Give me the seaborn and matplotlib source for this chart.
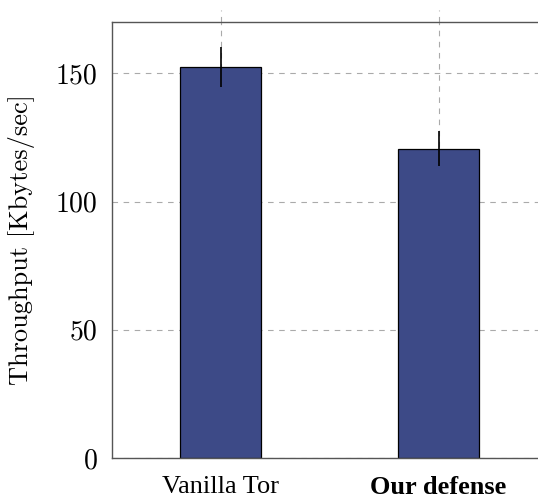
import matplotlib
matplotlib.use("Agg")
import matplotlib.pyplot as plt
import matplotlib.transforms as mtransforms
import seaborn as sns
import pandas as pd

categories = ["Vanilla Tor", "Our defense"]
throughput = [152.5, 120.6]
errors = [7.7, 6.8]
yticks = [0, 50, 100, 150]

sns.set_style("white")
plt.rcParams["font.family"] = ["Liberation Serif", "DejaVu Serif"]
plt.rcParams["text.color"] = "black"
plt.rcParams["axes.labelcolor"] = "black"
plt.rcParams["xtick.color"] = "black"
plt.rcParams["ytick.color"] = "black"

df = pd.DataFrame({"cat": categories, "val": throughput})

fig = plt.figure(figsize=(5.38, 4.98), dpi=100)
ax = fig.add_axes([111.5 / 538, 1 - 458 / 498, (547.5 - 111.5) / 538, (458 - 22) / 498])

grid_kw = dict(color="#aaaaaa", linewidth=0.8, linestyle=(0, (5, 5)))
for y in yticks:
    ax.axhline(y, zorder=0, **grid_kw)

sns.barplot(data=df, x="cat", y="val", ax=ax, color="#3d4a87", saturation=1,
            width=0.369, edgecolor="black", linewidth=0.9, errorbar=None, zorder=2)

xs = list(range(len(categories)))
trans = mtransforms.blended_transform_factory(ax.transData, ax.transAxes)
for x in xs:
    ax.axvline(x, zorder=0, **grid_kw)
    ax.plot([x, x], [1.0, 1.0 + 12 / 436], transform=trans, clip_on=False, **grid_kw)

ax.errorbar(xs, throughput, yerr=errors, fmt="none", ecolor="black",
            elinewidth=1.2, capsize=0, zorder=3)

ax.set_xlim(-0.5, 1.5)
ax.set_ylim(0, 170)
ax.set_yticks(yticks)
ax.set_yticklabels([str(v) for v in yticks], fontfamily="cmr10", fontsize=20)
ax.set_xticks(xs)
ax.set_xticklabels(categories, fontsize=19)
ax.get_xticklabels()[1].set_fontweight("bold")
ax.set_xlabel("")
ax.set_ylabel("Throughput [Kbytes/sec]", fontfamily="cmr10", fontsize=19, labelpad=15)

ax.tick_params(axis="x", length=10, width=0.8, color="#999999", direction="out", pad=3)
ax.tick_params(axis="y", length=0, pad=10)

for s in ax.spines.values():
    s.set_color("#555555")
    s.set_linewidth(1.0)
    s.set_visible(True)

fig.savefig("out.png", dpi=100)
